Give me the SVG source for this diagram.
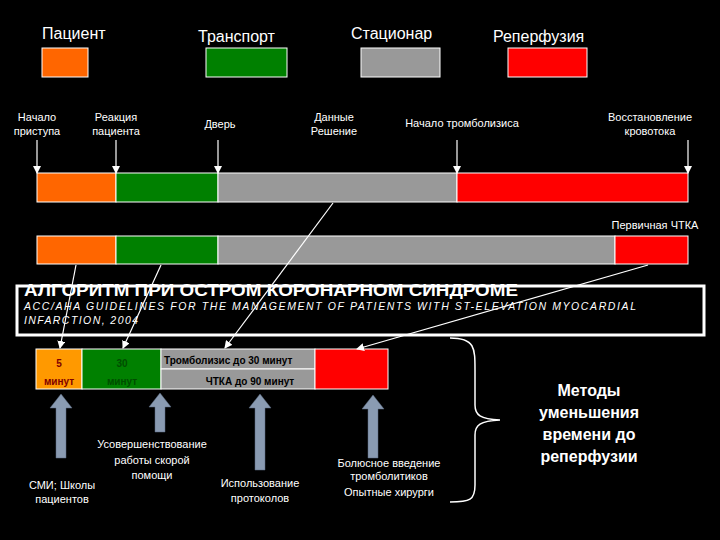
<svg xmlns="http://www.w3.org/2000/svg" width="720" height="540" viewBox="0 0 720 540">
<defs>
<marker id="ah" markerWidth="8" markerHeight="8" refX="7" refY="4" orient="auto" markerUnits="userSpaceOnUse"><path d="M0,0 L8,4 L0,8 Z" fill="#fff"/></marker>
<style>
text{font-family:"Liberation Sans",Arial,sans-serif;fill:#fff}
.leg{font-size:16px}
.lab{font-size:11px;text-anchor:middle}
.b{stroke:#fff;stroke-width:1}
.ln{stroke:#fff;stroke-width:1.2;fill:none}
.up{fill:#8a9bb2;stroke:#5a6a80;stroke-width:0.5}
.cap{font-size:11px;text-anchor:middle}
</style>
</defs>
<rect width="720" height="540" fill="#000"/>
<g id="legend">
<text class="leg" x="42" y="39">Пациент</text>
<text class="leg" x="198" y="42">Транспорт</text>
<text class="leg" x="351" y="39">Стационар</text>
<text class="leg" x="493" y="42">Реперфузия</text>
<rect class="b" x="42" y="48" width="46" height="29" fill="#ff6600"/>
<rect class="b" x="206" y="48" width="81" height="29" fill="#008000"/>
<rect class="b" x="361" y="48" width="79" height="29" fill="#999"/>
<rect class="b" x="508" y="48" width="79" height="29" fill="#f00"/>
</g>
<g id="labels">
<text class="lab" x="37" y="121">Начало</text><text class="lab" x="37" y="135">приступа</text>
<text class="lab" x="116" y="121">Реакция</text><text class="lab" x="116" y="135">пациента</text>
<text class="lab" x="220" y="128">Дверь</text>
<text class="lab" x="334" y="121">Данные</text><text class="lab" x="334" y="135">Решение</text>
<text class="lab" x="462" y="127">Начало тромболизиса</text>
<text class="lab" x="650" y="121">Восстановление</text><text class="lab" x="650" y="135">кровотока</text>
<text class="lab" x="655" y="229">Первичная ЧТКА</text>
</g>
<g id="bar1">
<rect class="b" x="37" y="173" width="79" height="29" fill="#ff6600"/>
<rect class="b" x="116" y="173" width="102" height="29" fill="#008000"/>
<rect class="b" x="218" y="173" width="239" height="29" fill="#999"/>
<rect class="b" x="457" y="173" width="231" height="29" fill="#f00"/>
</g>
<g id="bar2">
<rect class="b" x="37" y="236" width="79" height="28" fill="#ff6600"/>
<rect class="b" x="116" y="236" width="102" height="28" fill="#008000"/>
<rect class="b" x="218" y="236" width="397" height="28" fill="#999"/>
<rect class="b" x="615" y="236" width="73" height="28" fill="#f00"/>
</g>
<g id="bar3">
<rect class="b" x="36" y="349" width="46" height="40" fill="#ff9900"/>
<rect class="b" x="82" y="349" width="79" height="40" fill="#008000"/>
<rect class="b" x="161" y="349" width="154" height="20" fill="#999"/>
<rect class="b" x="161" y="369" width="154" height="20" fill="#999"/>
<rect class="b" x="315" y="349" width="73" height="40" fill="#f00"/>
<text x="59" y="367" font-size="10" font-weight="bold" text-anchor="middle" style="fill:#800000">5</text>
<text x="59" y="385" font-size="10" font-weight="bold" text-anchor="middle" style="fill:#800000">минут</text>
<text x="122" y="367" font-size="10" font-weight="bold" text-anchor="middle" style="fill:#004d00">30</text>
<text x="122" y="385" font-size="10" font-weight="bold" text-anchor="middle" style="fill:#004d00">минут</text>
<text x="164" y="364" font-size="10" font-weight="bold" style="fill:#000">Тромболизис до 30 минут</text>
<text x="250" y="385" font-size="10" font-weight="bold" text-anchor="middle" style="fill:#000">ЧТКА до 90 минут</text>
</g>
<g id="connectors">
<line class="ln" x1="37" y1="140" x2="37" y2="173" marker-end="url(#ah)"/>
<line class="ln" x1="116" y1="140" x2="116" y2="173" marker-end="url(#ah)"/>
<line class="ln" x1="218" y1="140" x2="218" y2="173" marker-end="url(#ah)"/>
<line class="ln" x1="457" y1="140" x2="457" y2="173" marker-end="url(#ah)"/>
<line class="ln" x1="688" y1="140" x2="688" y2="173" marker-end="url(#ah)"/>
<line class="ln" x1="76" y1="265" x2="60" y2="348" marker-end="url(#ah)"/>
<line class="ln" x1="161" y1="265" x2="123" y2="348" marker-end="url(#ah)"/>
<line class="ln" x1="333" y1="203" x2="225" y2="348" marker-end="url(#ah)"/>
<line class="ln" x1="648" y1="265" x2="357" y2="349" marker-end="url(#ah)"/>
</g>
<g id="title">
<rect x="17" y="286" width="687" height="49" fill="none" stroke="#fff" stroke-width="3"/>
<text x="24" y="296" font-size="17" font-weight="bold" textLength="494" lengthAdjust="spacingAndGlyphs">АЛГОРИТМ ПРИ ОСТРОМ КОРОНАРНОМ СИНДРОМЕ</text>
<text x="24" y="310" font-size="10.5" font-style="italic" textLength="612" lengthAdjust="spacing"> ACC/AHA GUIDELINES FOR THE MANAGEMENT OF PATIENTS WITH ST-ELEVATION MYOCARDIAL</text>
<text x="24" y="324" font-size="10.5" font-style="italic" textLength="114" lengthAdjust="spacing">INFARCTION, 2004</text>
</g>
<g id="uparrows">
<path class="up" d="M61,394 L72,408 L66,408 L66,458 L56,458 L56,408 L50,408 Z"/>
<path class="up" d="M160,393 L171,407 L165,407 L165,432 L155,432 L155,407 L149,407 Z"/>
<path class="up" d="M260,394 L271,408 L265,408 L265,470 L255,470 L255,408 L249,408 Z"/>
<path class="up" d="M373,395 L384,409 L378,409 L378,458 L368,458 L368,409 L362,409 Z"/>
</g>
<g id="captions">
<text class="cap" x="152" y="448">Усовершенствование</text>
<text class="cap" x="152" y="464">работы скорой</text>
<text class="cap" x="152" y="479">помощи</text>
<text class="cap" x="62" y="489">СМИ; Школы</text>
<text class="cap" x="62" y="503">пациентов</text>
<text class="cap" x="260" y="487">Использование</text>
<text class="cap" x="260" y="502">протоколов</text>
<text class="cap" x="389" y="467">Болюсное введение</text>
<text class="cap" x="389" y="480">тромболитиков</text>
<text class="cap" x="389" y="496">Опытные хирурги</text>
</g>
<g id="brace">
<path d="M450,338 C475,338 475,348 475,370 L475,405 C475,415 480,419 500,420 C480,421 475,425 475,435 L475,485 C475,500 470,502 450,502" fill="none" stroke="#fff" stroke-width="1.5"/>
<text x="589" y="396" font-size="16" font-weight="bold" text-anchor="middle">Методы</text>
<text x="589" y="418" font-size="16" font-weight="bold" text-anchor="middle">уменьшения</text>
<text x="589" y="440" font-size="16" font-weight="bold" text-anchor="middle">времени до</text>
<text x="589" y="462" font-size="16" font-weight="bold" text-anchor="middle">реперфузии</text>
</g>
</svg>
